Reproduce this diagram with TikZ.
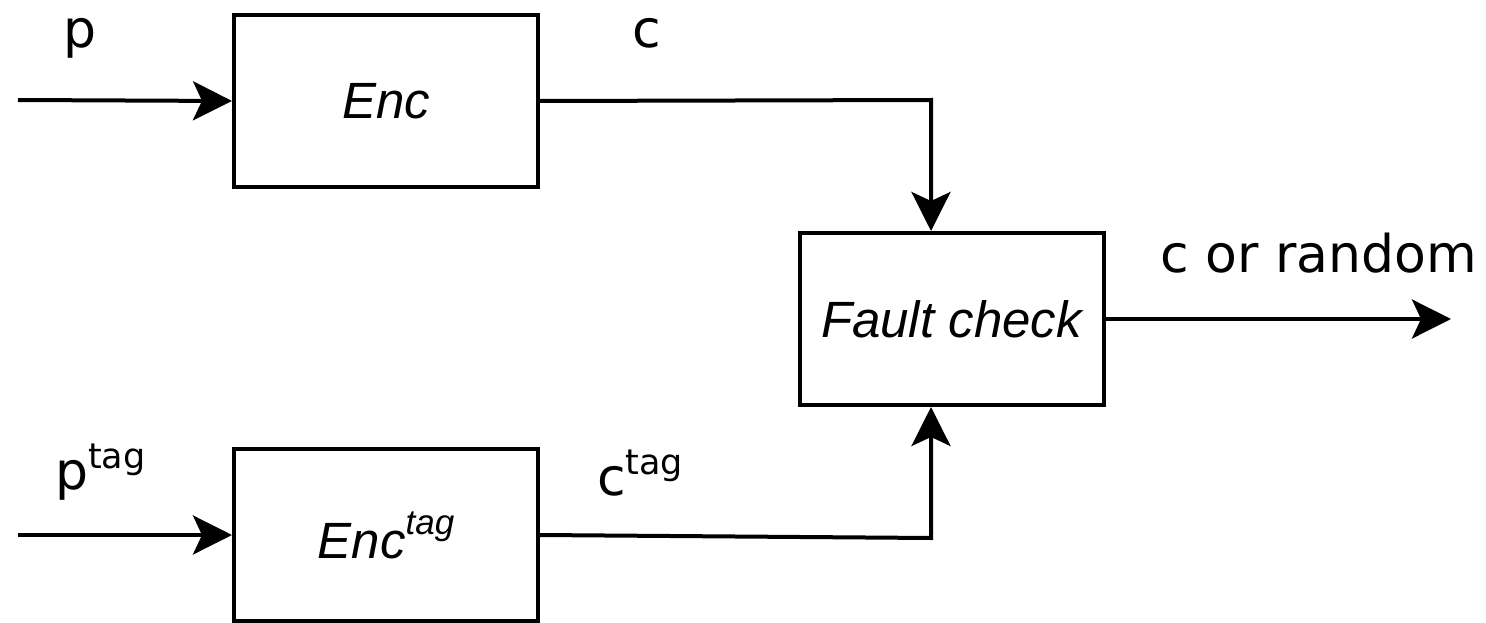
\documentclass[tikz,border=0pt]{standalone}
\usepackage{fontspec}
\setmainfont{DejaVu Sans}
\newfontfamily\boxfont{Liberation Sans}
\usetikzlibrary{arrows.meta}
\newcommand\tagsup[2][21pt]{\raisebox{#1}{\fontsize{35}{35}\selectfont #2}}
\begin{document}
\begin{tikzpicture}[x=1pt,y=-1pt,
  blk/.style={draw,line width=4pt,minimum width=304pt,minimum height=172pt,
    inner sep=0pt,font=\boxfont\itshape\fontsize{51}{56}\selectfont},
  lbl/.style={anchor=base west,inner sep=0pt,font=\fontsize{52}{58}\selectfont},
  arr/.style={line width=4pt,-{Stealth[length=39pt,width=39pt,inset=9pt]}}]
  \useasboundingbox (0,0) rectangle (1486,623);
  % processing blocks
  \node[blk] (enc) at (386,101) {Enc};
  \node[blk] (enctag) at (386,535) {Enc\tagsup[24pt]{\itshape tag}};
  \node[blk] (fc) at (951.5,319) {Fault check};
  % free ends and bends
  \coordinate (pin) at (18,100);
  \coordinate (ptagin) at (18,535);
  \coordinate (j1) at (931,100);
  \coordinate (j2) at (931,538);
  \coordinate (out) at (1451,319);
  % labels
  \node[lbl] (lp) at (63,48) {p};
  \node[lbl] (lc) at (632,48) {c};
  \node[lbl] (lpt) at (55,489) {p\tagsup{tag}};
  \node[lbl] (lct) at (597,495) {c\tagsup{tag}};
  \node[lbl] (lout) at (1160,272) {c or random};
  % connectors
  \draw[arr] (pin) -- (enc.west);
  \draw[arr] (ptagin) -- (enctag.west);
  \draw[arr] (enc.east) -- (j1) -- (j1 |- fc.north);
  \draw[arr] (enctag.east) -- (j2) -- (j2 |- fc.south);
  \draw[arr] (fc.east) -- (out);
\end{tikzpicture}
\end{document}
